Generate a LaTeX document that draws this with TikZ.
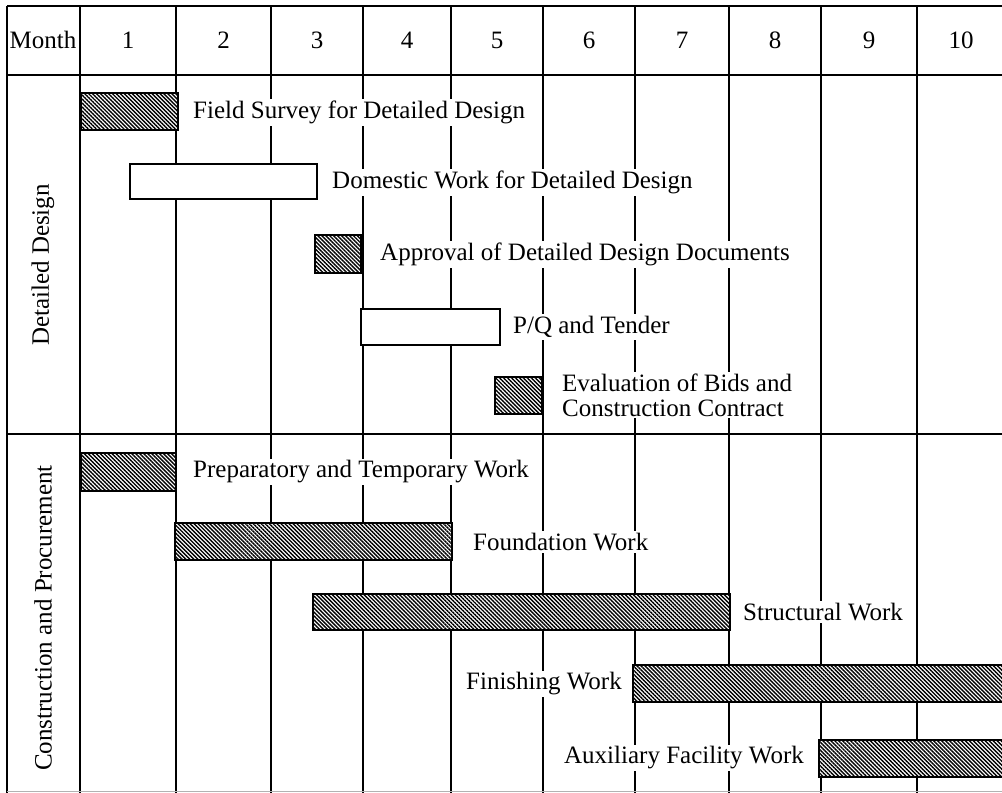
\documentclass[tikz,border=0pt]{standalone}
\usepackage{fontspec}
\setmainfont{Liberation Serif}
\usetikzlibrary{patterns.meta}

\tikzset{
  gridline/.style={line width=1.6pt},
  hatchbar/.style={draw,line width=1.8pt,preaction={fill=white},
    pattern={Lines[angle=-45,distance=2.8pt,line width=1.4pt]}},
  openbar/.style={draw,fill=white,line width=1.8pt},
  tasklabel/.style={fill=white,inner sep=2pt,anchor=west,align=left,
    font=\fontsize{25}{25}\selectfont},
  headlabel/.style={font=\fontsize{25}{27}\selectfont},
}

\begin{document}
\begin{tikzpicture}[x=1pt,y=-1pt]
  \useasboundingbox (0,0) rectangle (1002,793);
  \clip (0,0) rectangle (1002,793);
  % frame and grid
  \draw[gridline] (7,6) -- (1010,6);
  \draw[gridline] (7,75) -- (1010,75);
  \draw[gridline] (7,434) -- (1010,434);
  \draw[gridline] (7,6) -- (7,800);
  \foreach \gx in {80,176,271,363,451,543,635,729,821,917}
    \draw[gridline] (\gx,6) -- (\gx,800);
  \draw[gray!60,line width=0.8pt] (7,791) -- (1010,791);
  % header
  \node[headlabel] (month) at (43,40) {Month};
  \foreach \m/\cx in {1/128,2/223.5,3/317,4/407,5/497,6/589,7/682,8/775,9/869,10/961}
    \node[headlabel] (m\m) at (\cx,40) {\m};
  % section names
  \node[headlabel,rotate=90] (design) at (43,265) {Detailed Design};
  \node[headlabel,rotate=90] (constr) at (43,618) {Construction and Procurement};
  % detailed design tasks
  \draw[hatchbar] (81,93) rectangle (178,130);
  \node[tasklabel] (survey) at (191,112) {Field Survey for Detailed Design};
  \draw[openbar] (130,164) rectangle (317,199);
  \node[tasklabel] (domestic) at (330,182) {Domestic Work for Detailed Design};
  \draw[hatchbar] (315,235) rectangle (361,273);
  \node[tasklabel] (approval) at (378,254) {Approval of Detailed Design Documents};
  \draw[openbar] (361,309) rectangle (500,345);
  \node[tasklabel] (tender) at (511,327) {P/Q and Tender};
  \draw[hatchbar] (495,377) rectangle (542,414);
  \node[tasklabel] (bids) at (560,395) {Evaluation of Bids and\\Construction Contract};
  % construction tasks
  \draw[hatchbar] (81,453) rectangle (176,491);
  \node[tasklabel] (prep) at (191,472) {Preparatory and Temporary Work};
  \draw[hatchbar] (175,523) rectangle (452,560);
  \node[tasklabel] (found) at (471,542) {Foundation Work};
  \draw[hatchbar] (313,594) rectangle (730,630);
  \node[tasklabel] (struct) at (741,612) {Structural Work};
  \draw[hatchbar] (633,665) rectangle (1012,702);
  \node[tasklabel,anchor=east] (finish) at (624,684) {Finishing Work};
  \draw[hatchbar] (819,740) rectangle (1012,777);
  \node[tasklabel,anchor=east] (aux) at (806,758) {Auxiliary Facility Work};
\end{tikzpicture}
\end{document}
